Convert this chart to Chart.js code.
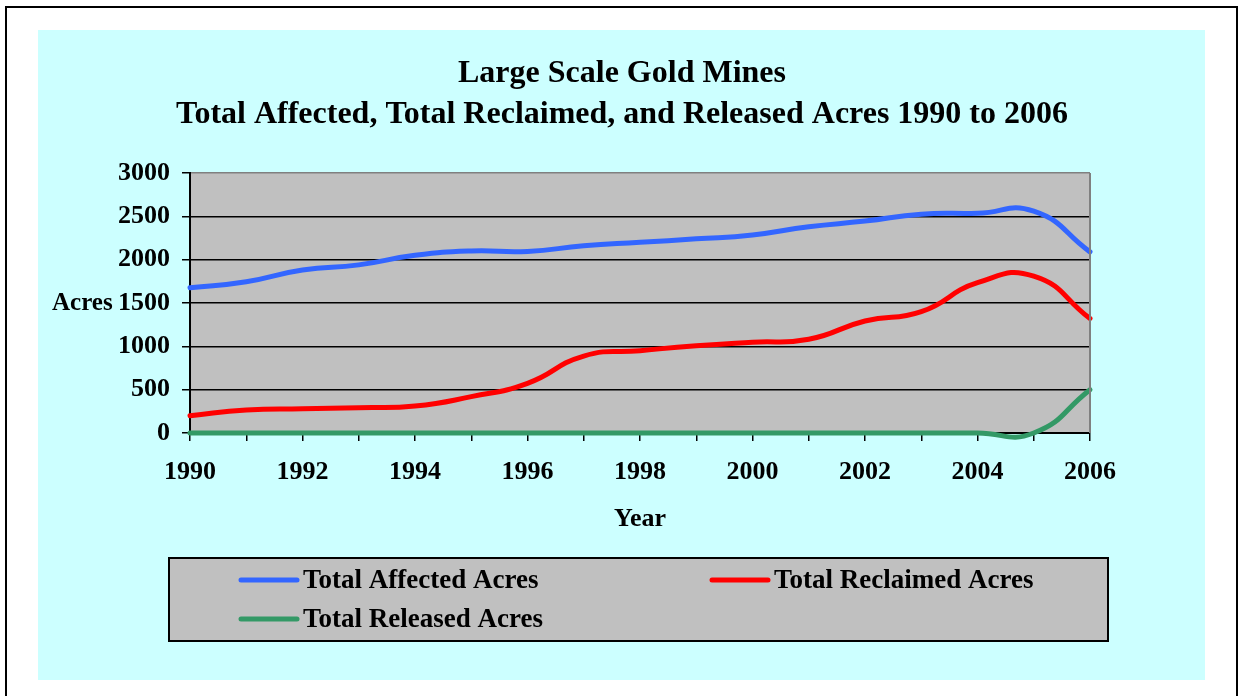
<!DOCTYPE html>
<html>
<head>
<meta charset="utf-8">
<script src="https://cdn.jsdelivr.net/npm/chart.js@4"></script>
<style>
  body { margin: 0; background: #fff; width: 1241px; height: 696px; overflow: hidden; position: relative; }
  #frame { position: absolute; left: 5px; top: 6px; width: 1229px; height: 720px; border: 2px solid #000; }
  #panel { position: absolute; left: 38px; top: 30px; width: 1167px; height: 650px; background: #ccffff; }
</style>
</head>
<body>
<div id="frame"></div>
<div id="panel"><canvas id="chart" width="1167" height="650"></canvas></div>
<script>
const years = [1990, 1991, 1992, 1993, 1994, 1995, 1996, 1997, 1998, 1999, 2000, 2001, 2002, 2003, 2004, 2005, 2006];
const affected = [1675, 1745, 1880, 1940, 2050, 2100, 2095, 2160, 2200, 2240, 2285, 2380, 2445, 2525, 2535, 2560, 2090];
const reclaimed = [200, 265, 280, 292, 311, 420, 573, 888, 950, 1007, 1048, 1082, 1292, 1400, 1734, 1810, 1320];
const released = [0, 0, 0, 0, 0, 0, 0, 0, 0, 0, 0, 0, 0, 0, 0, 0, 500];
const titleLines = ['Large Scale Gold Mines', 'Total Affected, Total Reclaimed, and Released Acres 1990 to 2006'];

const serif = '"Liberation Serif", "Times New Roman", serif';

function pts(vals) {
  return years.map((y, i) => ({ x: y, y: vals[i] }));
}

// plot background, titles, axis names and the boxed legend
const decor = {
  id: 'decor',
  beforeDraw(chart) {
    const { ctx, chartArea: a } = chart;
    ctx.save();
    ctx.fillStyle = '#c0c0c0';
    ctx.fillRect(a.left, a.top, a.right - a.left, a.bottom - a.top);
    ctx.restore();
  },
  afterDatasetsDraw(chart) {
    const { ctx, chartArea: a } = chart;
    ctx.save();
    ctx.strokeStyle = '#808080';
    ctx.lineWidth = 2;
    ctx.beginPath();
    ctx.moveTo(a.right, a.top);
    ctx.lineTo(a.right, a.bottom);
    ctx.stroke();
    ctx.restore();
  },
  afterDraw(chart) {
    const { ctx } = chart;
    ctx.save();
    ctx.fillStyle = '#000';
    ctx.textAlign = 'center';
    ctx.textBaseline = 'middle';
    ctx.font = 'bold 32px ' + serif;
    ctx.fillText(titleLines[0], 584, 44);
    ctx.fillText(titleLines[1], 584, 85);

    ctx.font = 'bold 26px ' + serif;
    ctx.fillText('Year', 602, 489);
    ctx.textAlign = 'left';
    ctx.font = 'bold 25px ' + serif;
    ctx.fillText('Acres', 14, 274);

    // legend box
    ctx.fillStyle = '#c0c0c0';
    ctx.fillRect(131, 528, 939, 83);
    ctx.strokeStyle = '#000';
    ctx.lineWidth = 2;
    ctx.strokeRect(131, 528, 939, 83);

    const slots = [[203, 550], [674, 550], [203, 589]];
    ctx.font = 'bold 27px ' + serif;
    chart.data.datasets.forEach((ds, i) => {
      const [x, y] = slots[i];
      ctx.strokeStyle = ds.borderColor;
      ctx.lineWidth = 5;
      ctx.lineCap = 'round';
      ctx.beginPath();
      ctx.moveTo(x, y);
      ctx.lineTo(x + 56, y);
      ctx.stroke();
      ctx.fillStyle = '#000';
      ctx.fillText(ds.label, x + 62, y + 1);
    });
    ctx.restore();
  }
};

new Chart(document.getElementById('chart'), {
  type: 'line',
  data: {
    datasets: [
      { label: 'Total Affected Acres', data: pts(affected), borderColor: '#3366ff' },
      { label: 'Total Reclaimed Acres', data: pts(reclaimed), borderColor: '#ff0000' },
      { label: 'Total Released Acres', data: pts(released), borderColor: '#339966' }
    ]
  },
  options: {
    responsive: false,
    animation: false,
    layout: { padding: { left: 0, right: 115, top: 143, bottom: 197 } },
    elements: {
      line: { borderWidth: 5, tension: 0.5, borderCapStyle: 'round', capBezierPoints: false },
      point: { radius: 0 }
    },
    datasets: { line: { clip: false } },
    plugins: {
      legend: { display: false },
      title: { display: false },
      tooltip: { enabled: false }
    },
    scales: {
      x: {
        type: 'linear',
        min: 1990,
        max: 2006,
        afterFit(scale) { scale.height = 50; },
        ticks: {
          stepSize: 1,
          autoSkip: false,
          maxRotation: 0,
          padding: 16,
          color: '#000',
          font: { family: serif, size: 26, weight: 'bold' },
          callback: v => (v % 2 === 0 ? String(v) : '')
        },
        grid: { drawOnChartArea: false, drawTicks: true, tickLength: 8, color: '#000', lineWidth: 1.5 },
        border: { display: true, color: '#000', width: 2 }
      },
      y: {
        min: 0,
        max: 3000,
        afterFit(scale) { scale.width = 152; },
        ticks: {
          stepSize: 500,
          padding: 12,
          color: '#000',
          font: { family: serif, size: 26, weight: 'bold' },
          callback: v => String(v)
        },
        grid: {
          color: c => (c.tick && c.tick.value === 3000 ? '#808080' : '#000'),
          lineWidth: 1.5,
          tickLength: 8,
          tickColor: '#000'
        },
        border: { display: true, color: '#000', width: 2 }
      }
    }
  },
  plugins: [decor]
});
</script>
</body>
</html>
